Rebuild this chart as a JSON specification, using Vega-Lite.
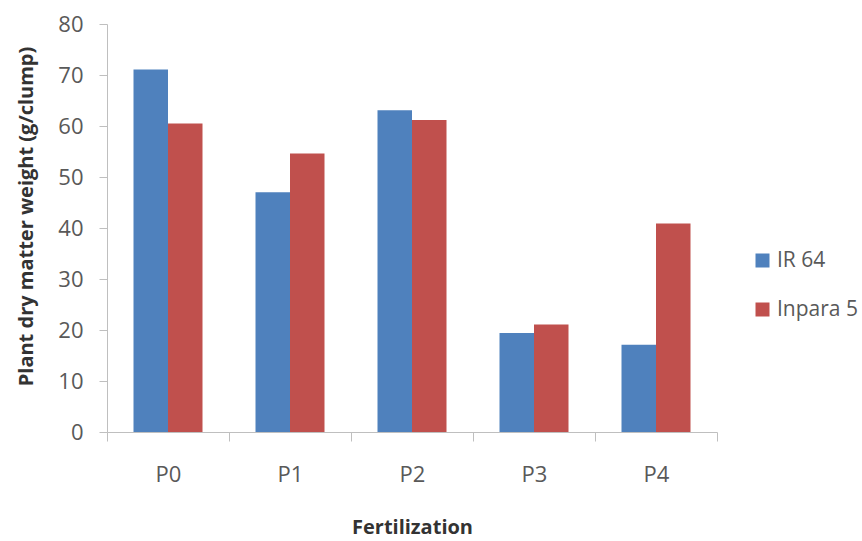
{
  "$schema": "https://vega.github.io/schema/vega-lite/v6.json",
  "autosize": {"type": "none"},
  "padding": {"left": 107, "top": 24, "right": 145, "bottom": 109},
  "width": 610,
  "height": 408,
  "background": "white",
  "config": {
    "view": {"stroke": null},
    "font": "Open Sans",
    "axis": {"labelFont": "Open Sans", "titleFont": "Open Sans"},
    "legend": {"labelFont": "Open Sans"}
  },
  "data": {
    "values": [
      {"fert": "P0", "variety": "IR 64", "weight": 71.1},
      {"fert": "P0", "variety": "Inpara 5", "weight": 60.5},
      {"fert": "P1", "variety": "IR 64", "weight": 47.0},
      {"fert": "P1", "variety": "Inpara 5", "weight": 54.6},
      {"fert": "P2", "variety": "IR 64", "weight": 63.1},
      {"fert": "P2", "variety": "Inpara 5", "weight": 61.2},
      {"fert": "P3", "variety": "IR 64", "weight": 19.4},
      {"fert": "P3", "variety": "Inpara 5", "weight": 21.1},
      {"fert": "P4", "variety": "IR 64", "weight": 17.1},
      {"fert": "P4", "variety": "Inpara 5", "weight": 40.9}
    ]
  },
  "mark": {"type": "bar"},
  "encoding": {
    "x": {
      "field": "fert",
      "type": "nominal",
      "title": "Fertilization",
      "scale": {"paddingInner": 0, "paddingOuter": 0},
      "axis": {
        "labelAngle": 0,
        "tickBand": "extent",
        "labelFontSize": 22,
        "labelColor": "#595959",
        "labelPadding": 23,
        "tickSize": 9,
        "tickColor": "#bfbfbf",
        "domainColor": "#bfbfbf",
        "titleFontSize": 20,
        "titleFontWeight": "bold",
        "titleColor": "#333333",
        "titlePadding": 32
      }
    },
    "xOffset": {
      "field": "variety",
      "type": "nominal",
      "sort": ["IR 64", "Inpara 5"],
      "scale": {"paddingInner": 0, "paddingOuter": 0.768}
    },
    "y": {
      "field": "weight",
      "type": "quantitative",
      "title": "Plant dry matter weight (g/clump)",
      "scale": {"domain": [0, 80], "nice": false},
      "axis": {
        "values": [0, 10, 20, 30, 40, 50, 60, 70, 80],
        "grid": false,
        "labelFontSize": 22,
        "labelColor": "#595959",
        "labelPadding": 16,
        "tickSize": 8,
        "tickColor": "#bfbfbf",
        "domainColor": "#bfbfbf",
        "titleFontSize": 20,
        "titleFontWeight": "bold",
        "titleColor": "#333333",
        "titlePadding": 21,
        "titleY": 192
      }
    },
    "color": {
      "field": "variety",
      "type": "nominal",
      "title": null,
      "scale": {"domain": ["IR 64", "Inpara 5"], "range": ["#4F81BD", "#C0504D"]},
      "legend": {
        "orient": "none",
        "legendX": 645,
        "legendY": 226,
        "padding": 0,
        "symbolType": "square",
        "symbolSize": 196,
        "symbolStrokeWidth": 0,
        "labelFontSize": 21,
        "labelColor": "#595959",
        "labelOffset": 4,
        "rowPadding": 27
      }
    }
  }
}
